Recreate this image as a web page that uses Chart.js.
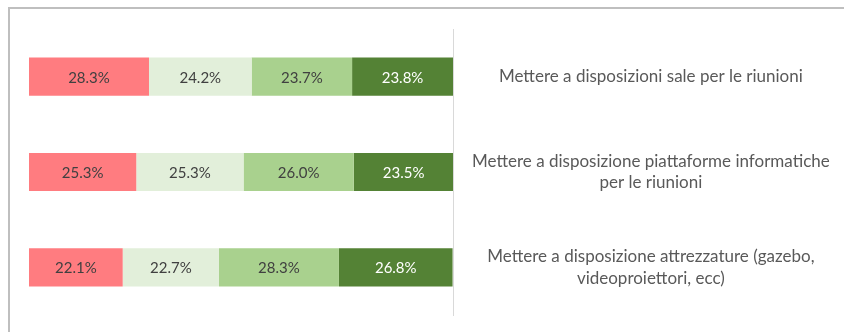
<!DOCTYPE html>
<html>
<head>
<meta charset="utf-8">
<script src="https://cdn.jsdelivr.net/npm/chart.js@4"></script>
<style>
  html, body { margin: 0; padding: 0; background: #fff; }
  #wrap { position: relative; width: 844px; height: 332px; overflow: hidden; }
  #frame { position: absolute; left: 8px; top: 7px; width: 900px; height: 400px;
           border-top: 2px solid #bfbfbf; border-left: 2px solid #bfbfbf; }
  canvas { position: absolute; left: 0; top: 0; }
</style>
</head>
<body>
<div id="wrap">
  <div id="frame"></div>
  <canvas id="myChart" width="844" height="332"></canvas>
</div>
<script>
// voci del questionario (etichette a destra)
let categories = [
  ["Mettere a disposizioni sale per le riunioni"],
  ["Mettere a disposizione piattaforme informatiche", "per le riunioni"],
  ["Mettere a disposizione attrezzature (gazebo,", "videoproiettori, ecc)"]
];
let seriesNames = ["Per niente", "Poco", "Abbastanza", "Molto"];
let perNiente = [28.3, 25.3, 22.1];
let poco = [24.2, 25.3, 22.7];
let abbastanza = [23.7, 26.0, 28.3];
let molto = [23.8, 23.5, 26.8];
let barColors = ["#ff7c80", "#e2efda", "#a9d18e", "#548235"];
let labelColors = ["#404040", "#404040", "#404040", "#ffffff"];

const fontFamily = "Lato, 'Noto Sans', sans-serif";

// scrive la percentuale al centro di ogni segmento
const valueLabels = {
  id: 'valueLabels',
  afterDatasetsDraw(chart) {
    const ctx = chart.ctx;
    ctx.save();
    ctx.font = "15px " + fontFamily;
    ctx.textAlign = 'center';
    ctx.textBaseline = 'middle';
    chart.data.datasets.forEach((ds, i) => {
      const meta = chart.getDatasetMeta(i);
      meta.data.forEach((bar, j) => {
        ctx.fillStyle = labelColors[i];
        ctx.fillText(ds.data[j].toFixed(1) + '%', (bar.x + bar.base) / 2, bar.y + 1);
      });
    });
    ctx.restore();
  }
};

let allValues = [perNiente, poco, abbastanza, molto];

let ctx = document.getElementById('myChart').getContext('2d');
const myChart = new Chart(ctx, {
  type: 'bar',
  data: {
    labels: categories,
    datasets: allValues.map((vals, i) => ({
      label: seriesNames[i],
      data: vals,
      backgroundColor: barColors[i],
      borderWidth: 0,
      barPercentage: 0.4,
      categoryPercentage: 1
    }))
  },
  options: {
    indexAxis: 'y',
    responsive: false,
    animation: false,
    layout: { padding: { left: 29, top: 29, bottom: 17, right: 0 } },
    plugins: { legend: { display: false }, tooltip: { enabled: false } },
    scales: {
      x: { stacked: true, min: 0, max: 100, display: false },
      y: {
        stacked: true,
        position: 'right',
        grid: { display: false, drawTicks: false },
        border: { display: true, color: '#d9d9d9', width: 1 },
        ticks: {
          crossAlign: 'center',
          padding: 19,
          color: '#595959',
          font: { family: fontFamily, size: 17, lineHeight: 1.28 }
        },
        // larghezza fissa della colonna etichette, senza margini extra in alto e in basso
        afterFit(scale) {
          scale.width = 391;
          scale.paddingTop = 0;
          scale.paddingBottom = 0;
        }
      }
    }
  },
  plugins: [valueLabels]
});
</script>
</body>
</html>
